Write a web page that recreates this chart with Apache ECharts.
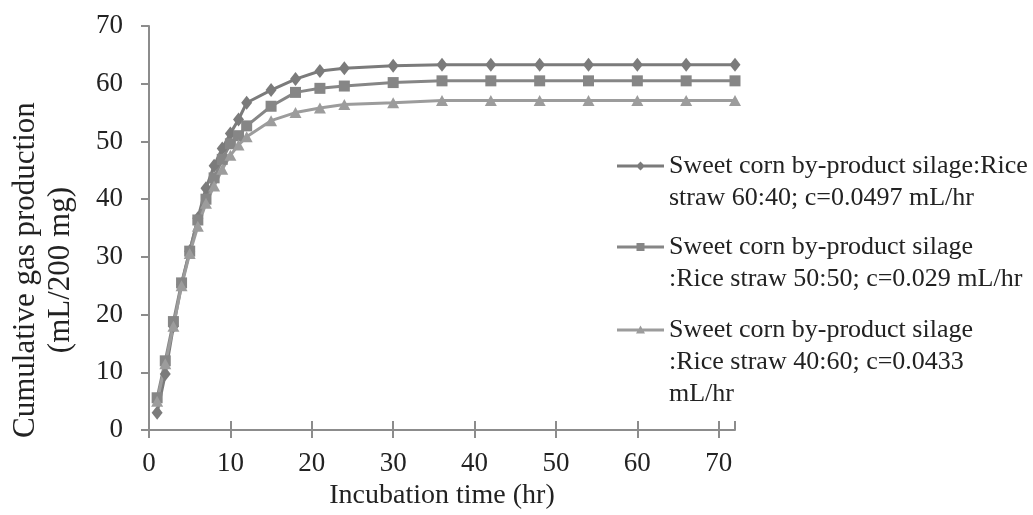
<!DOCTYPE html>
<html>
<head>
<meta charset="utf-8">
<script src="https://cdn.jsdelivr.net/npm/echarts@6/dist/echarts.min.js"></script>
<style>
  html, body { margin: 0; padding: 0; background: #fff; }
  #chart { width: 1033px; height: 515px; }
</style>
</head>
<body>
<div id="chart"></div>
<script>
// incubation time (hr)
var hours = [1, 2, 3, 4, 5, 6, 7, 8, 9, 10, 11, 12, 15, 18, 21, 24, 30, 36, 42, 48, 54, 60, 66, 72];

// cumulative gas (mL/200 mg)
var gas6040 = [3.0, 9.7, 18.0, 25.2, 31.0, 36.7, 41.9, 45.8, 48.8, 51.4, 53.8, 56.7, 58.9, 60.8, 62.2, 62.7, 63.1, 63.3, 63.3, 63.3, 63.3, 63.3, 63.3, 63.3];
var gas5050 = [5.6, 12.0, 18.8, 25.5, 31.0, 36.4, 40.0, 43.7, 46.9, 49.6, 51.0, 52.7, 56.1, 58.5, 59.2, 59.6, 60.2, 60.5, 60.5, 60.5, 60.5, 60.5, 60.5, 60.5];
var gas4060 = [5.0, 11.5, 18.0, 25.0, 30.6, 35.3, 39.3, 42.3, 45.2, 47.6, 49.4, 50.8, 53.6, 55.0, 55.8, 56.4, 56.7, 57.1, 57.1, 57.1, 57.1, 57.1, 57.1, 57.1];

var names = [
  'Sweet corn by-product silage:Rice\nstraw 60:40; c=0.0497 mL/hr',
  'Sweet corn by-product silage\n:Rice straw 50:50; c=0.029 mL/hr',
  'Sweet corn by-product silage\n:Rice straw 40:60; c=0.0433\nmL/hr'
];
var xTicks = [0, 10, 20, 30, 40, 50, 60, 70];
var yTicks = [0, 10, 20, 30, 40, 50, 60, 70];

var font = '"Liberation Serif", "Times New Roman", serif';
var axisGray = '#8c8c8c';
var colors = ['#7b7b7b', '#868686', '#9c9c9c'];
var lineH = 32;
var iconW = 47;

/* 图例图标：线段 + 标记，放在第一行文字的高度*/
var markPaths = [
  'M23.5 11.5 L28 16 L23.5 20.5 L19 16 Z',
  'M19.5 12 L27.5 12 L27.5 20 L19.5 20 Z',
  'M23.5 11.5 L28 19.5 L19 19.5 Z'
];
function legendIcon(idx, h) {
  return 'path://M0 0 L0.01 0 L0 0.01 Z ' +
    'M0 14.5 L' + iconW + ' 14.5 L' + iconW + ' 17.5 L0 17.5 Z ' +
    markPaths[idx] + ' ' +
    'M' + iconW + ' ' + h + ' L' + (iconW - 0.01) + ' ' + h + ' L' + iconW + ' ' + (h - 0.01) + ' Z';
}

function legendFor(idx, top, lines) {
  var h = lineH * lines;
  return {
    show: true,
    left: 617,
    top: top,
    padding: 0,
    itemWidth: iconW,
    itemHeight: h,
    itemGap: 6,
    data: [{
      name: names[idx],
      icon: legendIcon(idx, h),
      itemStyle: { color: colors[idx], borderWidth: 0 }
    }],
    textStyle: {
      fontFamily: font,
      fontSize: 26,
      color: '#222',
      lineHeight: lineH
    }
  };
}

function pairs(vals) {
  return hours.map(function (h, i) { return [h, vals[i]]; });
}

var chart = echarts.init(document.getElementById('chart'));
var option = {
  animation: false,
  backgroundColor: '#fff',
  grid: { left: 146.5, right: 298, top: 26, bottom: 74 },
  legend: [
    legendFor(0, 150, 2),
    legendFor(1, 231, 2),
    legendFor(2, 314, 3)
  ],
  xAxis: [{
    type: 'value',
    min: 0,
    max: 72,
    interval: 10,
    name: 'Incubation time (hr)',
    nameLocation: 'middle',
    nameGap: 48,
    nameTextStyle: { fontFamily: font, fontSize: 28, color: '#222' },
    axisLine: { lineStyle: { color: axisGray, width: 2 } },
    axisTick: { length: 8, lineStyle: { color: axisGray, width: 2 } },
    axisLabel: {
      fontFamily: font, fontSize: 27, color: '#222', margin: 20,
      showMaxLabel: false,
      formatter: function (v) { return xTicks.indexOf(v) >= 0 ? String(v) : ''; }
    },
    splitLine: { show: false }
  }, {
    type: 'value',
    position: 'bottom',
    min: 0,
    max: 72,
    interval: 10,
    axisLine: { show: false },
    axisTick: { inside: true, length: 9, lineStyle: { color: axisGray, width: 2 } },
    axisLabel: { show: false },
    splitLine: { show: false }
  }],
  yAxis: {
    type: 'value',
    min: 0,
    max: 70,
    interval: 10,
    name: 'Cumulative gas production\n(mL/200 mg)',
    nameLocation: 'middle',
    nameGap: 71,
    nameTextStyle: {
      fontFamily: font, fontSize: 31, color: '#222', lineHeight: 35,
      padding: [0, 84, 0, 0]
    },
    axisLine: { show: true, lineStyle: { color: axisGray, width: 2 } },
    axisTick: { show: true, length: 8, lineStyle: { color: axisGray, width: 2 } },
    axisLabel: {
      fontFamily: font, fontSize: 27, color: '#222', margin: 26,
      formatter: function (v) { return yTicks.indexOf(v) >= 0 ? String(v) : ''; }
    },
    splitLine: { show: false }
  },
  series: [{
    name: names[0],
    type: 'line',
    data: pairs(gas6040),
    symbol: 'diamond',
    symbolSize: [11, 14],
    lineStyle: { color: colors[0], width: 3 },
    itemStyle: { color: colors[0] }
  }, {
    name: names[1],
    type: 'line',
    data: pairs(gas5050),
    symbol: 'rect',
    symbolSize: 11,
    lineStyle: { color: colors[1], width: 3 },
    itemStyle: { color: colors[1] }
  }, {
    name: names[2],
    type: 'line',
    data: pairs(gas4060),
    symbol: 'triangle',
    symbolSize: [12, 11],
    lineStyle: { color: colors[2], width: 3 },
    itemStyle: { color: colors[2] }
  }]
};
chart.setOption(option);
</script>
</body>
</html>
